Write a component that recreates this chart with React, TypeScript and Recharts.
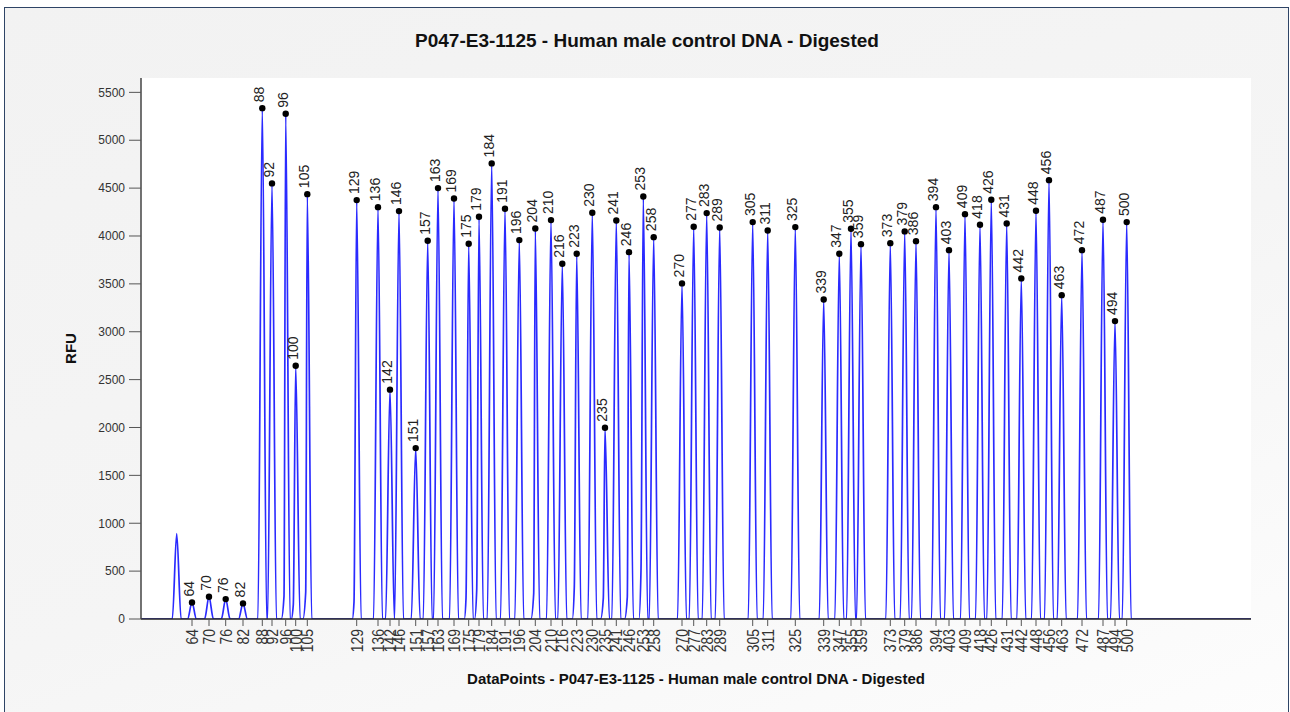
import React from 'react';
import { ComposedChart, Line, Scatter, XAxis, YAxis, CartesianGrid } from 'recharts';

// Sizing (nt) labels of the called peaks
const peakSizes = [
  64, 70, 76, 82, 88, 92, 96, 100, 105, 129, 136, 142, 146, 151, 157, 163, 169,
  175, 179, 184, 191, 196, 204, 210, 216, 223, 230, 235, 241, 246, 253, 258,
  270, 277, 283, 289, 305, 311, 325, 339, 347, 355, 359, 373, 379, 386, 394,
  403, 409, 418, 426, 431, 442, 448, 456, 463, 472, 487, 494, 500,
];
// Position of each called peak (data points)
const peakDataPoints = [
  510, 680, 847, 1020, 1213, 1310, 1447, 1547, 1663, 2157, 2370, 2490, 2580, 2747, 2867, 2970, 3130,
  3277, 3380, 3507, 3640, 3783, 3943, 4100, 4213, 4357, 4513, 4640, 4753, 4880, 5023, 5127,
  5410, 5527, 5657, 5787, 6117, 6267, 6543, 6827, 6983, 7100, 7200, 7493, 7637, 7750, 7950,
  8080, 8240, 8390, 8503, 8657, 8803, 8950, 9080, 9207, 9410, 9620, 9740, 9857,
];
// Height of each called peak (RFU)
const peakRfu = [
  173, 233, 208, 163, 5335, 4549, 5277, 2645, 4437, 4375, 4301, 2395, 4260, 1785, 3950, 4500, 4392,
  3919, 4201, 4758, 4285, 3957, 4079, 4166, 3710, 3815, 4243, 1998, 4162, 3831, 4413, 3988,
  3505, 4097, 4239, 4089, 4145, 4058, 4093, 3337, 3815, 4076, 3915, 3925, 4048, 3946, 4301,
  3852, 4228, 4118, 4379, 4131, 3557, 4264, 4583, 3382, 3852, 4170, 3111, 4145,
];
// Uncalled peak(s)
const otherPeakDataPoints = [357];
const otherPeakRfu = [891];
// Small shoulders on peak flanks
const shoulderDataPoints = [1430, 1523, 1647, 2130, 3250, 3357, 3927, 4333, 4623, 4863, 5000];
const shoulderRfu = [236, 150, 280, 176, 215, 300, 266, 333, 215, 229, 510];

const yTicks = [0, 500, 1000, 1500, 2000, 2500, 3000, 3500, 4000, 4500, 5000, 5500];
const X_MAX = 11100;
const Y_MAX = 5650;
const PEAK_HALF_WIDTH = 44;

const TITLE = 'P047-E3-1125 - Human male control DNA - Digested';
const X_TITLE = 'DataPoints - P047-E3-1125 - Human male control DNA - Digested';
const Y_TITLE = 'RFU';

const FONT = '"Liberation Sans", Arial, sans-serif';

type Pt = { x: number; y: number };

const trace: Pt[] = (() => {
  const pts: Pt[] = [{ x: 0, y: 0 }];
  const allX = [...otherPeakDataPoints, ...peakDataPoints];
  const allY = [...otherPeakRfu, ...peakRfu];
  allX.forEach((x, i) => {
    pts.push({ x: x - PEAK_HALF_WIDTH, y: 0 });
    pts.push({ x, y: allY[i] });
    pts.push({ x: x + PEAK_HALF_WIDTH, y: 0 });
  });
  shoulderDataPoints.forEach((x, i) => pts.push({ x, y: shoulderRfu[i] }));
  pts.push({ x: X_MAX, y: 0 });
  return pts.sort((a, b) => a.x - b.x);
})();

const called = peakDataPoints.map((x, i) => ({ x, y: peakRfu[i], label: String(peakSizes[i]) }));
const labelByPos: Record<number, string> = {};
peakDataPoints.forEach((x, i) => (labelByPos[x] = String(peakSizes[i])));

const XTick = (props: any) => {
  const { x, y, payload } = props;
  const text = labelByPos[payload.value] ?? '';
  return (
    <g transform={`translate(${x + 6}, ${y}) rotate(-90) scale(0.82, 1)`}>
      <text x={0} y={0} textAnchor="end" fontSize={17} fontFamily={FONT} fill="#333">
        {text}
      </text>
    </g>
  );
};

const PeakMark = (props: any) => {
  const { cx, cy, payload } = props;
  if (cx == null || cy == null) return null;
  return (
    <g>
      <circle cx={cx} cy={cy} r={3.2} fill="#000" />
      <g transform={`translate(${cx + 2}, ${cy - 6}) rotate(-90)`}>
        <text x={0} y={0} textAnchor="start" fontSize={14} fontFamily={FONT} fill="#222">
          {payload.label}
        </text>
      </g>
    </g>
  );
};

export default function App() {
  return (
    <div style={{ position: 'absolute', left: 0, top: 0, width: 1290, height: 712, overflow: 'hidden', background: '#fff' }}>
      <div
        style={{
          position: 'absolute',
          left: 4,
          top: 7,
          width: 1283,
          height: 720,
          border: '1px solid #2e4466',
          background: 'linear-gradient(160deg, #f2f2f2 0%, #f5f5f5 55%, #fdfdfd 100%)',
        }}
      />
      <div
        style={{
          position: 'absolute', left: 0, top: 30, width: 1294, textAlign: 'center',
          fontFamily: FONT, fontWeight: 'bold', fontSize: 19, lineHeight: '22px', color: '#111',
        }}
      >
        {TITLE}
      </div>
      <div
        style={{
          position: 'absolute', left: 141, top: 670, width: 1110, textAlign: 'center',
          fontFamily: FONT, fontWeight: 'bold', fontSize: 15, lineHeight: '17px', color: '#111',
        }}
      >
        {X_TITLE}
      </div>
      <div
        style={{
          position: 'absolute', left: 40, top: 340, width: 60, textAlign: 'center',
          fontFamily: FONT, fontWeight: 'bold', fontSize: 15, lineHeight: '17px', color: '#111',
          transform: 'rotate(-90deg)',
        }}
      >
        {Y_TITLE}
      </div>
      <div style={{ position: 'absolute', left: 0, top: 0 }}>
        <ComposedChart width={1290} height={712} margin={{ top: 78, right: 39, bottom: 43, left: 81 }}>
          <CartesianGrid horizontal={false} vertical={false} fill="#ffffff" fillOpacity={1} stroke="none" />
          <XAxis
            type="number"
            dataKey="x"
            domain={[0, X_MAX]}
            ticks={peakDataPoints}
            interval={0}
            height={50}
            tickSize={7}
            tickMargin={3}
            tick={<XTick />}
            tickLine={{ stroke: '#555' }}
            axisLine={{ stroke: '#222', strokeWidth: 1.5 }}
            allowDataOverflow
          />
          <YAxis
            type="number"
            dataKey="y"
            domain={[0, Y_MAX]}
            ticks={yTicks}
            interval={0}
            width={60}
            tickSize={12}
            tickMargin={4}
            tick={{ fill: '#333', fontSize: 12, fontFamily: FONT }}
            tickLine={{ stroke: '#555' }}
            axisLine={{ stroke: '#444', strokeWidth: 1.5 }}
            allowDataOverflow
          />
          <Line
            data={trace}
            dataKey="y"
            type="monotone"
            stroke="#2a2aff"
            strokeWidth={1.7}
            dot={false}
            activeDot={false}
            isAnimationActive={false}
          />
          <Scatter data={called} dataKey="y" shape={<PeakMark />} isAnimationActive={false} />
        </ComposedChart>
      </div>
    </div>
  );
}
